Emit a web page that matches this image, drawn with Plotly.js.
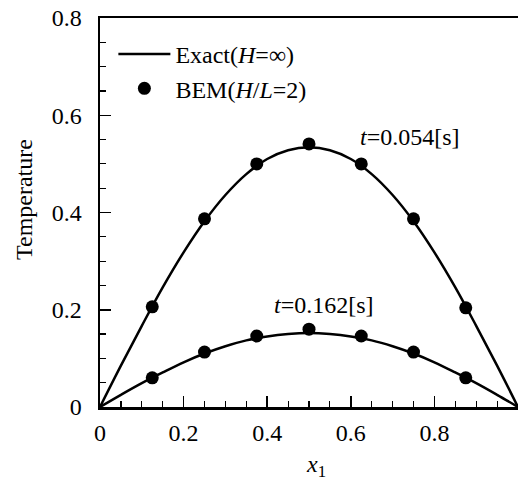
<!DOCTYPE html>
<html>
<head>
<meta charset="utf-8">
<script src="https://cdn.plot.ly/plotly-3.0.1.min.js"></script>
<style>html,body{margin:0;padding:0;background:#fff;}#chart{width:519px;height:487px;}</style>
</head>
<body>
<div id="chart"></div>
<script>
// Exact solution curves
const xExact = [0, 0.05, 0.1, 0.15, 0.2, 0.25, 0.3, 0.35, 0.4, 0.45, 0.5, 0.55, 0.6, 0.65, 0.7, 0.75, 0.8, 0.85, 0.9, 0.95, 1.0];
const exactT054 = [0, 0.085, 0.167, 0.246, 0.318, 0.382, 0.436, 0.479, 0.510, 0.528, 0.534, 0.528, 0.510, 0.479, 0.436, 0.382, 0.318, 0.246, 0.167, 0.085, 0];
const exactT162 = [0, 0.025, 0.049, 0.071, 0.092, 0.110, 0.125, 0.137, 0.145, 0.150, 0.152, 0.150, 0.145, 0.137, 0.125, 0.110, 0.092, 0.071, 0.049, 0.025, 0];
// BEM points
const xBEM = [0.125, 0.25, 0.375, 0.5, 0.625, 0.75, 0.875];
const bemT054 = [0.206, 0.387, 0.500, 0.541, 0.500, 0.387, 0.204];
const bemT162 = [0.060, 0.113, 0.146, 0.160, 0.146, 0.113, 0.060];
// Ticks
const xTickVals = [0, 0.2, 0.4, 0.6, 0.8];
const xTickText = ["0", "0.2", "0.4", "0.6", "0.8"];
const yTickVals = [0, 0.2, 0.4, 0.6, 0.8];
const yTickText = ["0", "0.2", "0.4", "0.6", "0.8"];

const FONT = "Liberation Serif, Times New Roman, serif";

const traces = [
  {x: xExact, y: exactT054, mode: "lines", type: "scatter", name: "Exact(<i>H</i>=∞)",
   line: {color: "#000", width: 2.5, shape: "spline"}, showlegend: true},
  {x: xExact, y: exactT162, mode: "lines", type: "scatter", name: "Exact(<i>H</i>=∞)",
   line: {color: "#000", width: 2.5, shape: "spline"}, showlegend: false},
  {x: xBEM, y: bemT054, mode: "markers", type: "scatter", name: "BEM(<i>H</i>/<i>L</i>=2)",
   marker: {color: "#000", size: 13}, showlegend: true},
  {x: xBEM, y: bemT162, mode: "markers", type: "scatter", name: "BEM(<i>H</i>/<i>L</i>=2)",
   marker: {color: "#000", size: 13}, showlegend: false}
];

const layout = {
  width: 519, height: 487,
  margin: {l: 100, r: 1, t: 18, b: 80},
  paper_bgcolor: "#fff", plot_bgcolor: "#fff",
  font: {family: FONT, size: 24, color: "#000"},
  showlegend: true,
  legend: {x: 0.032, y: 0.964, xanchor: "left", yanchor: "top", bgcolor: "rgba(0,0,0,0)",
           font: {family: FONT, size: 24, color: "#000"}, itemwidth: 52, tracegroupgap: 0},
  xaxis: {range: [0, 1], tickvals: xTickVals, ticktext: xTickText, ticks: "inside", ticklen: 11, tickwidth: 1.5,
          tickcolor: "#000", showline: true, linecolor: "#000", linewidth: 2.5, mirror: true,
          showgrid: false, zeroline: false, ticklabelstandoff: 3,
          minor: {dtick: 0.05, ticks: "inside", ticklen: 6, tickwidth: 1.2, tickcolor: "#000", showgrid: false},
          tickfont: {family: FONT, size: 24, color: "#000"}},
  yaxis: {range: [0, 0.8], tickvals: yTickVals, ticktext: yTickText, ticks: "inside", ticklen: 11, tickwidth: 1.5,
          tickcolor: "#000", showline: true, linecolor: "#000", linewidth: 2.5, mirror: false,
          showgrid: false, zeroline: false, ticklabelstandoff: 11,
          minor: {dtick: 0.05, ticks: "inside", ticklen: 6, tickwidth: 1.2, tickcolor: "#000", showgrid: false},
          tickfont: {family: FONT, size: 24, color: "#000"}},
  annotations: [
    {text: "<i>t</i>=0.054[s]", x: 0.617, y: 0.555, xref: "x", yref: "y", xanchor: "left", yanchor: "middle",
     showarrow: false, font: {family: FONT, size: 24, color: "#000"}},
    {text: "<i>t</i>=0.162[s]", x: 0.411, y: 0.21, xref: "x", yref: "y", xanchor: "left", yanchor: "middle",
     showarrow: false, font: {family: FONT, size: 24, color: "#000"}},
    {text: "Temperature", x: 0, y: 0, xref: "paper", yref: "paper", showarrow: false, textangle: -90,
     font: {family: FONT, size: 24, color: "#000"}, xanchor: "center", yanchor: "middle"},
    {text: "<i>x</i><sub>1</sub>", x: 0, y: 0, xref: "paper", yref: "paper", showarrow: false,
     font: {family: FONT, size: 24, color: "#000"}, xanchor: "center", yanchor: "middle"}
  ]
};
// convert pixel positions of the axis-title annotations to paper coords
(function(){
  const plotW = 519 - 100 - 1, plotH = 487 - 18 - 80;
  const a = layout.annotations[2];
  a.x = (24 - 100) / plotW;
  a.y = (407 - 200) / plotH;
  const b = layout.annotations[3];
  b.x = (316 - 100) / plotW;
  b.y = (407 - 466) / plotH;
})();

Plotly.newPlot("chart", traces, layout, {displayModeBar: false, staticPlot: true});
</script>
</body>
</html>
